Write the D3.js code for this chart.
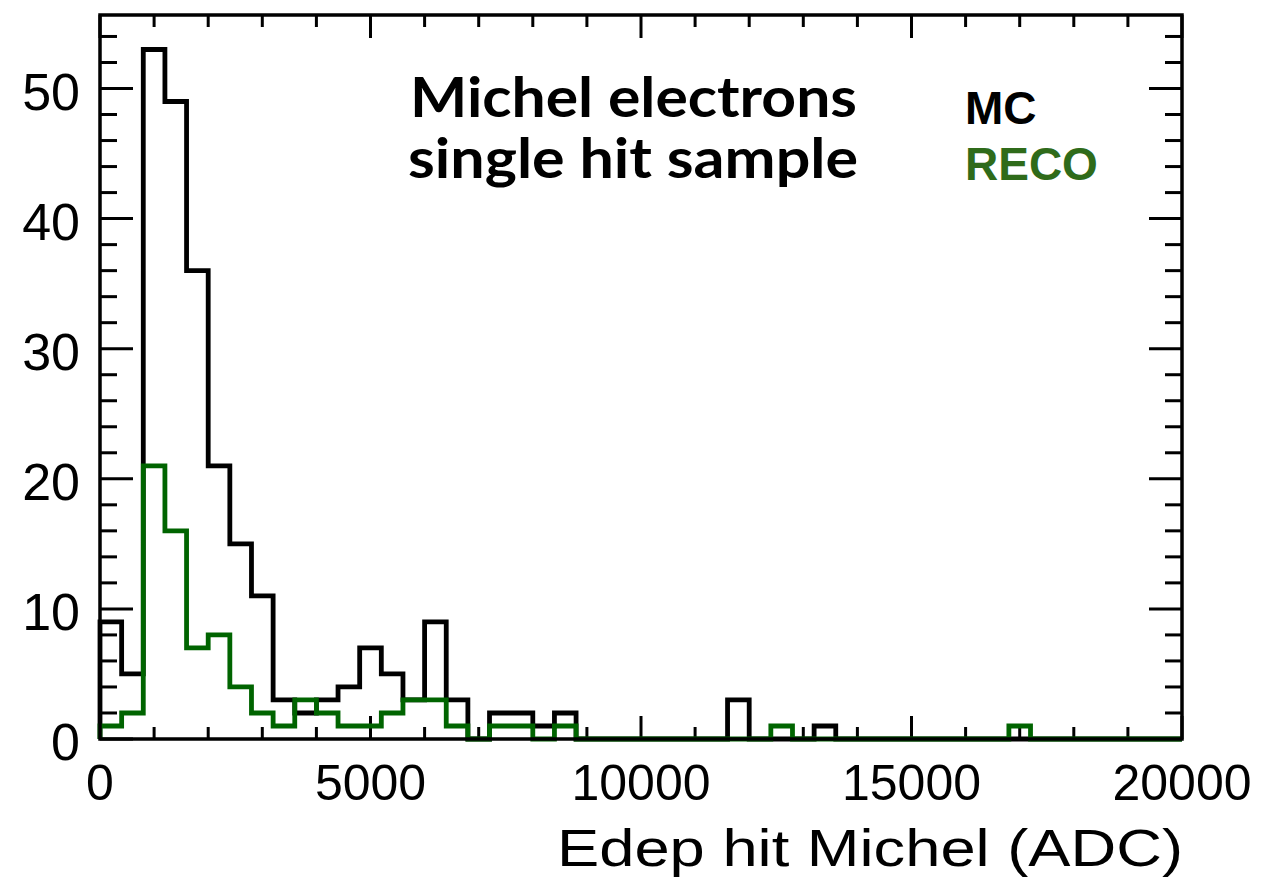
<!DOCTYPE html>
<html>
<head>
<meta charset="utf-8">
<script src="https://cdn.jsdelivr.net/npm/d3@7"></script>
<style>
  body { margin: 0; background: #fff; }
  svg { display: block; }
</style>
</head>
<body>
<svg id="chart" width="1266" height="878"></svg>
<script>
// histogram binning: 50 bins of 400 ADC from 0 to 20000
const binEdges = d3.range(0, 20001, 400);

// MC counts per bin
const mcCounts = [9, 5, 53, 49, 36, 21, 15, 11, 3, 2,
                  3, 4, 7, 5, 3, 9, 3, 0, 2, 2,
                  1, 2, 0, 0, 0, 0, 0, 0, 0, 3,
                  0, 0, 0, 1, 0, 0, 0, 0, 0, 0,
                  0, 0, 0, 0, 0, 0, 0, 0, 0, 0];

// RECO counts per bin
const recoCounts = [1, 2, 21, 16, 7, 8, 4, 2, 1, 3,
                    2, 1, 1, 2, 3, 3, 1, 0, 1, 1,
                    0, 1, 0, 0, 0, 0, 0, 0, 0, 0,
                    0, 1, 0, 0, 0, 0, 0, 0, 0, 0,
                    0, 0, 1, 0, 0, 0, 0, 0, 0, 0];

const xMajorTicks = [0, 5000, 10000, 15000, 20000];
const yMajorTicks = [0, 10, 20, 30, 40, 50];

const margin = { top: 15, right: 84, bottom: 139, left: 100 };
const width = 1266, height = 878;
const yMax = 55.65;

const svg = d3.select("#chart");

const x = d3.scaleLinear().domain([0, 20000]).range([margin.left, width - margin.right]);
const y = d3.scaleLinear().domain([0, yMax]).range([height - margin.bottom, margin.top]);

// step outline like ROOT's histogram drawing
function histPoints(counts) {
    const pts = [[binEdges[0], 0]];
    counts.forEach((c, i) => {
        pts.push([binEdges[i], c]);
        pts.push([binEdges[i + 1], c]);
    });
    pts.push([binEdges[binEdges.length - 1], 0]);
    return pts;
}

const line = d3.line().x(d => x(d[0])).y(d => y(d[1]));

// ticks - minor every 1000 on x, every 2 on y
const xMinor = d3.range(0, 20001, 1000);
const yMinor = d3.range(0, 55, 2);

const ticks = svg.append("g").attr("stroke", "#000").attr("stroke-width", 3);

xMinor.forEach(v => {
    const len = v % 5000 === 0 ? 23 : 12;
    ticks.append("line").attr("x1", x(v)).attr("x2", x(v))
        .attr("y1", y(0)).attr("y2", y(0) - len);
    ticks.append("line").attr("x1", x(v)).attr("x2", x(v))
        .attr("y1", y(yMax)).attr("y2", y(yMax) + len);
});
yMinor.forEach(v => {
    const len = v % 10 === 0 ? 33 : 17;
    ticks.append("line").attr("y1", y(v)).attr("y2", y(v))
        .attr("x1", x(0)).attr("x2", x(0) + len);
    ticks.append("line").attr("y1", y(v)).attr("y2", y(v))
        .attr("x1", x(20000)).attr("x2", x(20000) - len);
});

// histograms
svg.append("path")
    .datum(histPoints(mcCounts))
    .attr("d", line)
    .attr("fill", "none")
    .attr("stroke", "#000")
    .attr("stroke-width", 4.8)
    .attr("stroke-linejoin", "miter");

svg.append("path")
    .datum(histPoints(recoCounts))
    .attr("d", line)
    .attr("fill", "none")
    .attr("stroke", "#006400")
    .attr("stroke-width", 4.8)
    .attr("stroke-linejoin", "miter");

// frame
svg.append("rect")
    .attr("x", x(0)).attr("y", y(yMax))
    .attr("width", x(20000) - x(0)).attr("height", y(0) - y(yMax))
    .attr("fill", "none").attr("stroke", "#000").attr("stroke-width", 3.5);

// tick labels
const labelFont = "'Liberation Sans', Arial, Helvetica, sans-serif";
svg.append("g").selectAll("text")
    .data(yMajorTicks)
    .join("text")
    .attr("x", 80)
    .attr("y", d => y(d) + 21)
    .attr("text-anchor", "end")
    .attr("font-family", labelFont)
    .attr("font-size", 52)
    .text(d => d);

svg.append("g").selectAll("text")
    .data(xMajorTicks)
    .join("text")
    .attr("x", d => x(d))
    .attr("y", 800)
    .attr("text-anchor", "middle")
    .attr("font-family", labelFont)
    .attr("font-size", 50)
    .text(d => d);

svg.append("text")
    .attr("x", 557)
    .attr("y", 866)
    .attr("font-family", labelFont)
    .attr("font-size", 52)
    .attr("textLength", 626)
    .attr("lengthAdjust", "spacingAndGlyphs")
    .text("Edep hit Michel (ADC)");

// annotation
const noteFont = "Lato, 'Open Sans', sans-serif";
svg.append("text")
    .attr("x", 410).attr("y", 117)
    .attr("font-family", noteFont).attr("font-weight", 700).attr("font-size", 56)
    .attr("textLength", 447).attr("lengthAdjust", "spacingAndGlyphs")
    .text("Michel electrons");
svg.append("text")
    .attr("x", 408).attr("y", 178)
    .attr("font-family", noteFont).attr("font-weight", 700).attr("font-size", 56)
    .attr("textLength", 450).attr("lengthAdjust", "spacingAndGlyphs")
    .text("single hit sample");

// legend
svg.append("text")
    .attr("x", 965).attr("y", 124)
    .attr("font-family", labelFont).attr("font-weight", 700).attr("font-size", 46)
    .attr("fill", "#000")
    .text("MC");
svg.append("text")
    .attr("x", 965).attr("y", 180)
    .attr("font-family", labelFont).attr("font-weight", 700).attr("font-size", 46)
    .attr("fill", "#2f6b1a")
    .text("RECO");
</script>
</body>
</html>
